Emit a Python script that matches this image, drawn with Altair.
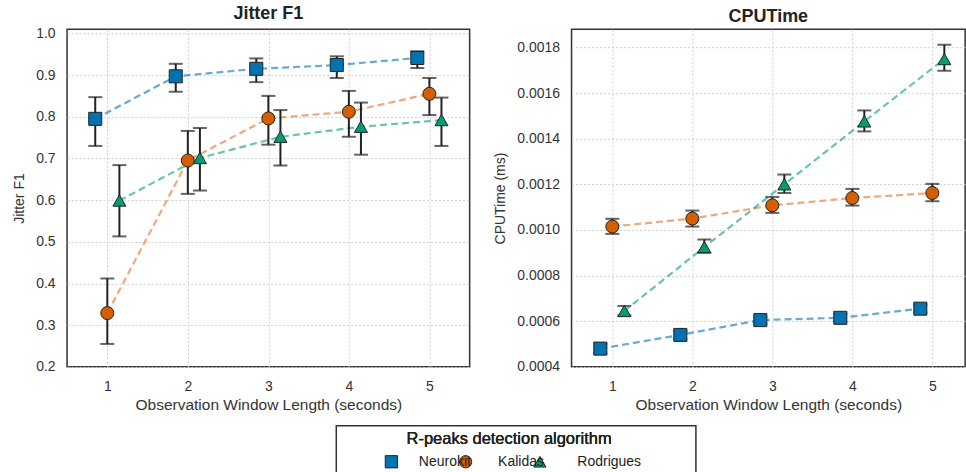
import altair as alt
import pandas as pd

windows = [1, 2, 3, 4, 5]
algorithms = ["Neurokit", "Kalidas", "Rodrigues"]

jitter_mean = {
    "Neurokit": [0.795, 0.897, 0.915, 0.924, 0.941],
    "Kalidas": [0.329, 0.695, 0.796, 0.812, 0.855],
    "Rodrigues": [0.599, 0.701, 0.752, 0.776, 0.792],
}
jitter_lo = {
    "Neurokit": [0.730, 0.860, 0.883, 0.893, 0.917],
    "Kalidas": [0.255, 0.615, 0.733, 0.752, 0.804],
    "Rodrigues": [0.513, 0.623, 0.683, 0.709, 0.730],
}
jitter_hi = {
    "Neurokit": [0.847, 0.927, 0.940, 0.945, 0.957],
    "Kalidas": [0.412, 0.766, 0.850, 0.862, 0.893],
    "Rodrigues": [0.684, 0.773, 0.816, 0.834, 0.846],
}

cpu_mean = {
    "Neurokit": [0.000480, 0.000540, 0.000605, 0.000615, 0.000655],
    "Kalidas": [0.001015, 0.001050, 0.001108, 0.001140, 0.001162],
    "Rodrigues": [0.000645, 0.000925, 0.001200, 0.001476, 0.001749],
}
cpu_lo = {
    "Neurokit": [0.000460, 0.000522, 0.000590, 0.000598, 0.000638],
    "Kalidas": [0.000983, 0.001015, 0.001075, 0.001107, 0.001126],
    "Rodrigues": [0.000626, 0.000900, 0.001162, 0.001432, 0.001698],
}
cpu_hi = {
    "Neurokit": [0.000500, 0.000558, 0.000620, 0.000632, 0.000672],
    "Kalidas": [0.001049, 0.001085, 0.001145, 0.001180, 0.001202],
    "Rodrigues": [0.000667, 0.000958, 0.001243, 0.001524, 0.001812],
}

# styling: horizontal dodge per algorithm
dodge = {"Neurokit": -0.15, "Kalidas": 0.0, "Rodrigues": 0.15}
colors = ["#0173b2", "#d55e00", "#029e73"]
line_colors = ["#0173b2", "#e0702a", "#029e73"]
shapes = ["square", "circle", "triangle-up"]
LEGEND_TITLE = "R-peaks detection algorithm"


def make_df(mean, lo, hi):
    rows = []
    for a in algorithms:
        for i, w in enumerate(windows):
            rows.append({"algorithm": a, "window": w, "xpos": w + dodge[a],
                         "mean": mean[a][i], "lo": lo[a][i], "hi": hi[a][i]})
    return pd.DataFrame(rows)


FONT = "Liberation Sans"

color_scale = alt.Scale(domain=algorithms, range=colors)
stroke_scale = alt.Scale(domain=algorithms, range=line_colors)
shape_scale = alt.Scale(domain=algorithms, range=shapes)


def panel(df, title, ytitle, ydomain, yvalues, yfmt, xdomain, width):
    xenc = alt.X("xpos:Q", title="Observation Window Length (seconds)",
                 scale=alt.Scale(domain=xdomain, nice=False, zero=False),
                 axis=alt.Axis(values=windows, format="d", ticks=False, domain=False,
                               labelPadding=13, titlePadding=4, grid=True,
                               titleFontSize=15.5))
    ysc = alt.Scale(domain=ydomain, nice=False, zero=False)
    yax = alt.Axis(values=yvalues, format=yfmt, ticks=False, domain=False,
                   labelPadding=12, titlePadding=9, grid=True, titleFontSize=14)
    base = alt.Chart(df)
    line = base.mark_line(strokeDash=[7, 4], strokeWidth=2.2, opacity=0.6).encode(
        x=xenc,
        y=alt.Y("mean:Q", title=ytitle, scale=ysc, axis=yax),
        stroke=alt.Stroke("algorithm:N", scale=stroke_scale, legend=None),
        detail="algorithm:N",
        order="window:Q",
    )
    rule = base.mark_rule(color="#222", strokeWidth=2).encode(
        x="xpos:Q", y="lo:Q", y2="hi:Q")
    cap_lo = base.mark_tick(orient="horizontal", color="#222", size=14, thickness=2).encode(
        x="xpos:Q", y="lo:Q")
    cap_hi = base.mark_tick(orient="horizontal", color="#222", size=14, thickness=2).encode(
        x="xpos:Q", y="hi:Q")
    pts = base.mark_point(filled=True, size=170, stroke="#222", strokeWidth=1, opacity=1).encode(
        x="xpos:Q", y="mean:Q",
        color=alt.Color("algorithm:N", scale=color_scale, legend=None),
        shape=alt.Shape("algorithm:N", scale=shape_scale, legend=None),
    )
    return alt.layer(line, rule, cap_lo, cap_hi, pts).properties(
        width=width, height=338,
        title=alt.TitleParams(title, fontSize=18, fontWeight="bold", font=FONT,
                              color="#222", offset=3),
    )


left = panel(make_df(jitter_mean, jitter_lo, jitter_hi), "Jitter F1", "Jitter F1",
             [0.2, 1.01], [0.2, 0.3, 0.4, 0.5, 0.6, 0.7, 0.8, 0.9, 1.0], ".1f",
             [0.5, 5.5], 403)
right = panel(make_df(cpu_mean, cpu_lo, cpu_hi), "CPUTime", "CPUTime (ms)",
              [0.0004, 0.00188],
              [0.0004, 0.0006, 0.0008, 0.0010, 0.0012, 0.0014, 0.0016, 0.0018],
              ".4f", [0.49, 5.41], 394)

panels = alt.hconcat(left, right, spacing=22).resolve_scale(
    x="independent", y="independent", color="shared", shape="shared", stroke="shared"
)

# hand-built legend box (a small chart of its own)
LEG_W, LEG_H = 360, 50
leg_df = pd.DataFrame({"algorithm": algorithms})
leg_base = alt.Chart(leg_df)
leg_syms = leg_base.mark_point(filled=True, size=150, stroke="#222", strokeWidth=1,
                               opacity=1).encode(
    x=alt.X("algorithm:N", scale=alt.Scale(type="point", domain=algorithms, range=[18, 241]),
            axis=None),
    y=alt.value(36),
    color=alt.Color("algorithm:N", scale=color_scale, legend=None),
    shape=alt.Shape("algorithm:N", scale=shape_scale, legend=None),
)
leg_labels = leg_base.mark_text(align="left", baseline="middle", font=FONT, fontSize=14,
                                color="#222").encode(
    x=alt.X("algorithm:N", scale=alt.Scale(type="point", domain=algorithms, range=[43, 281]),
            axis=None),
    y=alt.value(36),
    text="algorithm:N",
)
leg_title = leg_base.mark_text(align="center", baseline="middle", font=FONT, fontSize=16.5,
                               color="#222").encode(
    x=alt.value(LEG_W / 2 - 7),
    y=alt.value(13),
    text=alt.value(LEGEND_TITLE),
)
legend_box = alt.layer(leg_syms, leg_labels, leg_title).resolve_scale(
    x="independent"
).properties(width=LEG_W, height=LEG_H)

chart = alt.vconcat(panels, legend_box, spacing=10, center=True).resolve_scale(
    x="independent", y="independent", color="shared", shape="shared", stroke="shared"
).properties(
    padding={"left": 11, "top": 4, "right": 0, "bottom": 0},
    background="white",
).configure_view(
    stroke="#333", strokeWidth=1.5
).configure_axis(
    gridColor="#cfcfcf", gridDash=[2, 2], gridWidth=1,
    labelColor="#333", titleColor="#333", labelFont=FONT, titleFont=FONT,
    labelFontSize=14, titleFontSize=14, titleFontWeight="normal",
)

chart.save("out.html", embed_options={"renderer": "svg", "actions": False})
